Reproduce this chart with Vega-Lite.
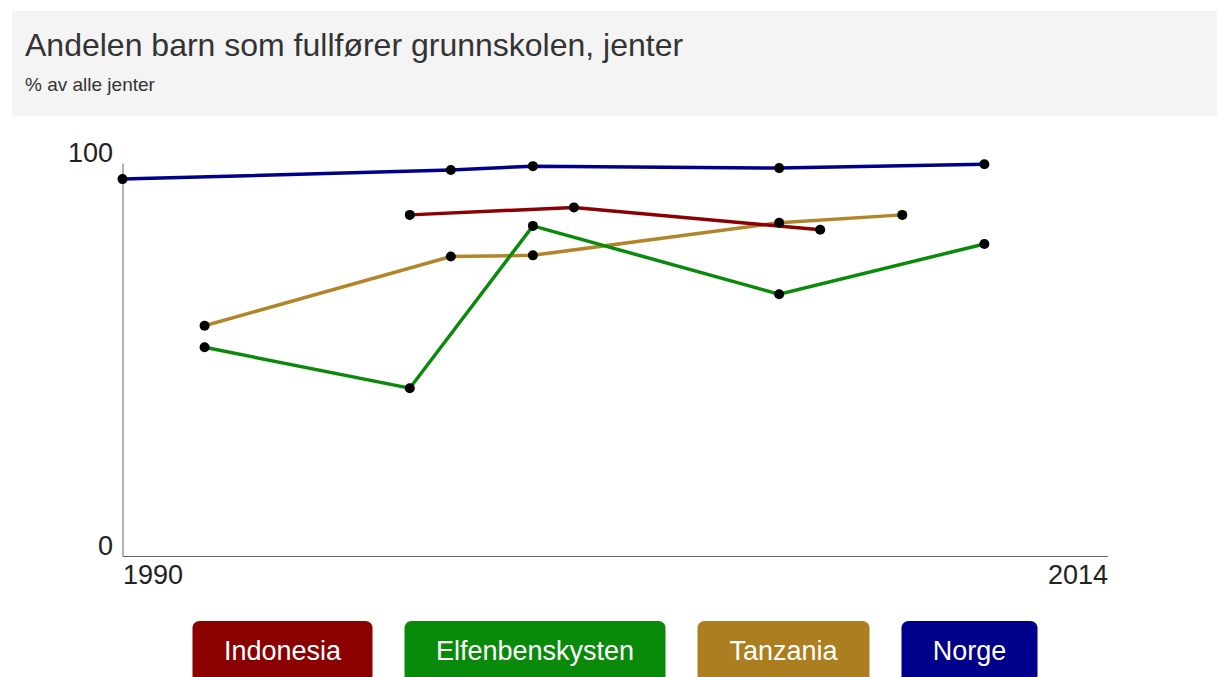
{
  "$schema": "https://vega.github.io/schema/vega-lite/v6.json",
  "padding": {"left": 11, "top": 11, "right": 0, "bottom": 0},
  "background": "white",
  "config": {"view": {"stroke": null}, "font": "Liberation Sans"},
  "datasets": {
    "main": [
      {"country": "Norge", "year": 1990, "value": 95.9},
      {"country": "Norge", "year": 1998, "value": 98.2},
      {"country": "Norge", "year": 2000, "value": 99.2},
      {"country": "Norge", "year": 2006, "value": 98.7},
      {"country": "Norge", "year": 2011, "value": 99.7},
      {"country": "Tanzania", "year": 1992, "value": 58.6},
      {"country": "Tanzania", "year": 1998, "value": 76.2},
      {"country": "Tanzania", "year": 2000, "value": 76.5},
      {"country": "Tanzania", "year": 2006, "value": 84.8},
      {"country": "Tanzania", "year": 2009, "value": 86.8},
      {"country": "Elfenbenskysten", "year": 1992, "value": 53.1},
      {"country": "Elfenbenskysten", "year": 1997, "value": 42.7},
      {"country": "Elfenbenskysten", "year": 2000, "value": 84.0},
      {"country": "Elfenbenskysten", "year": 2006, "value": 66.6},
      {"country": "Elfenbenskysten", "year": 2011, "value": 79.4},
      {"country": "Indonesia", "year": 1997, "value": 86.8},
      {"country": "Indonesia", "year": 2001, "value": 88.7},
      {"country": "Indonesia", "year": 2007, "value": 83.0}
    ],
    "legend": [
      {"country": "Indonesia"},
      {"country": "Elfenbenskysten"},
      {"country": "Tanzania"},
      {"country": "Norge"}
    ]
  },
  "vconcat": [
    {
      "width": 1206,
      "height": 105,
      "data": {"values": [{"t": 1}]},
      "title": {
        "text": "Andelen barn som fullfører grunnskolen, jenter",
        "subtitle": "% av alle jenter",
        "anchor": "start",
        "frame": "group",
        "offset": -85,
        "dx": 13,
        "font": "Liberation Sans",
        "fontSize": 32,
        "fontWeight": "normal",
        "color": "#333333",
        "subtitleFont": "Liberation Sans",
        "subtitleFontSize": 19,
        "subtitleColor": "#333333",
        "subtitlePadding": 13
      },
      "mark": {"type": "rect", "color": "#f4f4f4"},
      "encoding": {}
    },
    {
      "width": 985,
      "height": 393,
      "data": {"name": "main"},
      "encoding": {
        "x": {
          "field": "year",
          "type": "quantitative",
          "scale": {"domain": [1990, 2014], "nice": false, "zero": false},
          "axis": {
            "values": [1990, 2014],
            "format": "d",
            "title": null,
            "grid": false,
            "ticks": false,
            "tickSize": 0,
            "labelFlush": true,
            "labelFont": "Liberation Sans",
            "labelFontSize": 27,
            "labelColor": "#222222",
            "labelPadding": 6,
            "domainColor": "#666666",
            "minExtent": 42,
            "maxExtent": 42
          }
        }
      },
      "layer": [
        {
          "mark": {"type": "line", "strokeWidth": 3.5},
          "encoding": {
            "y": {
              "field": "value",
              "type": "quantitative",
              "scale": {"domain": [0, 100], "nice": false},
              "axis": {
                "values": [0, 100],
                "title": null,
                "grid": false,
                "ticks": false,
                "tickSize": 0,
                "labelBaseline": "alphabetic",
                "labelOffset": -2,
                "labelFont": "Liberation Sans",
                "labelFontSize": 27,
                "labelColor": "#222222",
                "labelPadding": 10,
                "domainColor": "#666666",
                "minExtent": 111,
                "maxExtent": 111
              }
            },
            "color": {
              "field": "country",
              "type": "nominal",
              "scale": {
                "domain": ["Indonesia", "Elfenbenskysten", "Tanzania", "Norge"],
                "range": ["#8B0000", "#0A8A0A", "#B3852A", "#00008B"]
              },
              "legend": null
            }
          }
        },
        {
          "mark": {"type": "point", "filled": true, "size": 100, "color": "#000000", "opacity": 1},
          "encoding": {
            "y": {
              "field": "value",
              "type": "quantitative",
              "scale": {"domain": [0, 100], "nice": false},
              "axis": {
                "orient": "right",
                "values": [0, 100],
                "title": null,
                "grid": false,
                "ticks": false,
                "tickSize": 0,
                "labels": false,
                "domainOpacity": 0,
                "minExtent": 0,
                "maxExtent": 0
              }
            },
            "detail": {"field": "country", "type": "nominal"}
          }
        }
      ],
      "resolve": {"scale": {"y": "independent"}, "axis": {"y": "independent"}}
    },
    {
      "spacing": 32,
      "hconcat": [
        {
          "width": 180, "height": 62,
          "data": {"name": "legend"},
          "transform": [{"filter": "datum.country === 'Indonesia'"}],
          "encoding": {
            "x": {"field": "country", "type": "nominal", "axis": null, "scale": {"paddingInner": 0, "paddingOuter": 0}},
            "y": {"field": "country", "type": "nominal", "axis": null, "scale": {"paddingInner": 0, "paddingOuter": 0}}
          },
          "layer": [
            {"mark": {"type": "rect", "cornerRadius": 7, "color": "#8B0000"}, "encoding": {}},
            {"mark": {"type": "text", "color": "white", "fontSize": 27, "font": "Liberation Sans"}, "encoding": {"text": {"field": "country"}}}
          ]
        },
        {
          "width": 261, "height": 62,
          "data": {"name": "legend"},
          "transform": [{"filter": "datum.country === 'Elfenbenskysten'"}],
          "encoding": {
            "x": {"field": "country", "type": "nominal", "axis": null, "scale": {"paddingInner": 0, "paddingOuter": 0}},
            "y": {"field": "country", "type": "nominal", "axis": null, "scale": {"paddingInner": 0, "paddingOuter": 0}}
          },
          "layer": [
            {"mark": {"type": "rect", "cornerRadius": 7, "color": "#0A8A0A"}, "encoding": {}},
            {"mark": {"type": "text", "color": "white", "fontSize": 27, "font": "Liberation Sans"}, "encoding": {"text": {"field": "country"}}}
          ]
        },
        {
          "width": 172, "height": 62,
          "data": {"name": "legend"},
          "transform": [{"filter": "datum.country === 'Tanzania'"}],
          "encoding": {
            "x": {"field": "country", "type": "nominal", "axis": null, "scale": {"paddingInner": 0, "paddingOuter": 0}},
            "y": {"field": "country", "type": "nominal", "axis": null, "scale": {"paddingInner": 0, "paddingOuter": 0}}
          },
          "layer": [
            {"mark": {"type": "rect", "cornerRadius": 7, "color": "#AD7E1F"}, "encoding": {}},
            {"mark": {"type": "text", "color": "white", "fontSize": 27, "font": "Liberation Sans"}, "encoding": {"text": {"field": "country"}}}
          ]
        },
        {
          "width": 136, "height": 62,
          "data": {"name": "legend"},
          "transform": [{"filter": "datum.country === 'Norge'"}],
          "encoding": {
            "x": {"field": "country", "type": "nominal", "axis": null, "scale": {"paddingInner": 0, "paddingOuter": 0}},
            "y": {"field": "country", "type": "nominal", "axis": null, "scale": {"paddingInner": 0, "paddingOuter": 0}}
          },
          "layer": [
            {"mark": {"type": "rect", "cornerRadius": 7, "color": "#00008B"}, "encoding": {}},
            {"mark": {"type": "text", "color": "white", "fontSize": 27, "font": "Liberation Sans"}, "encoding": {"text": {"field": "country"}}}
          ]
        }
      ]
    }
  ],
  "spacing": 23,
  "center": true
}
